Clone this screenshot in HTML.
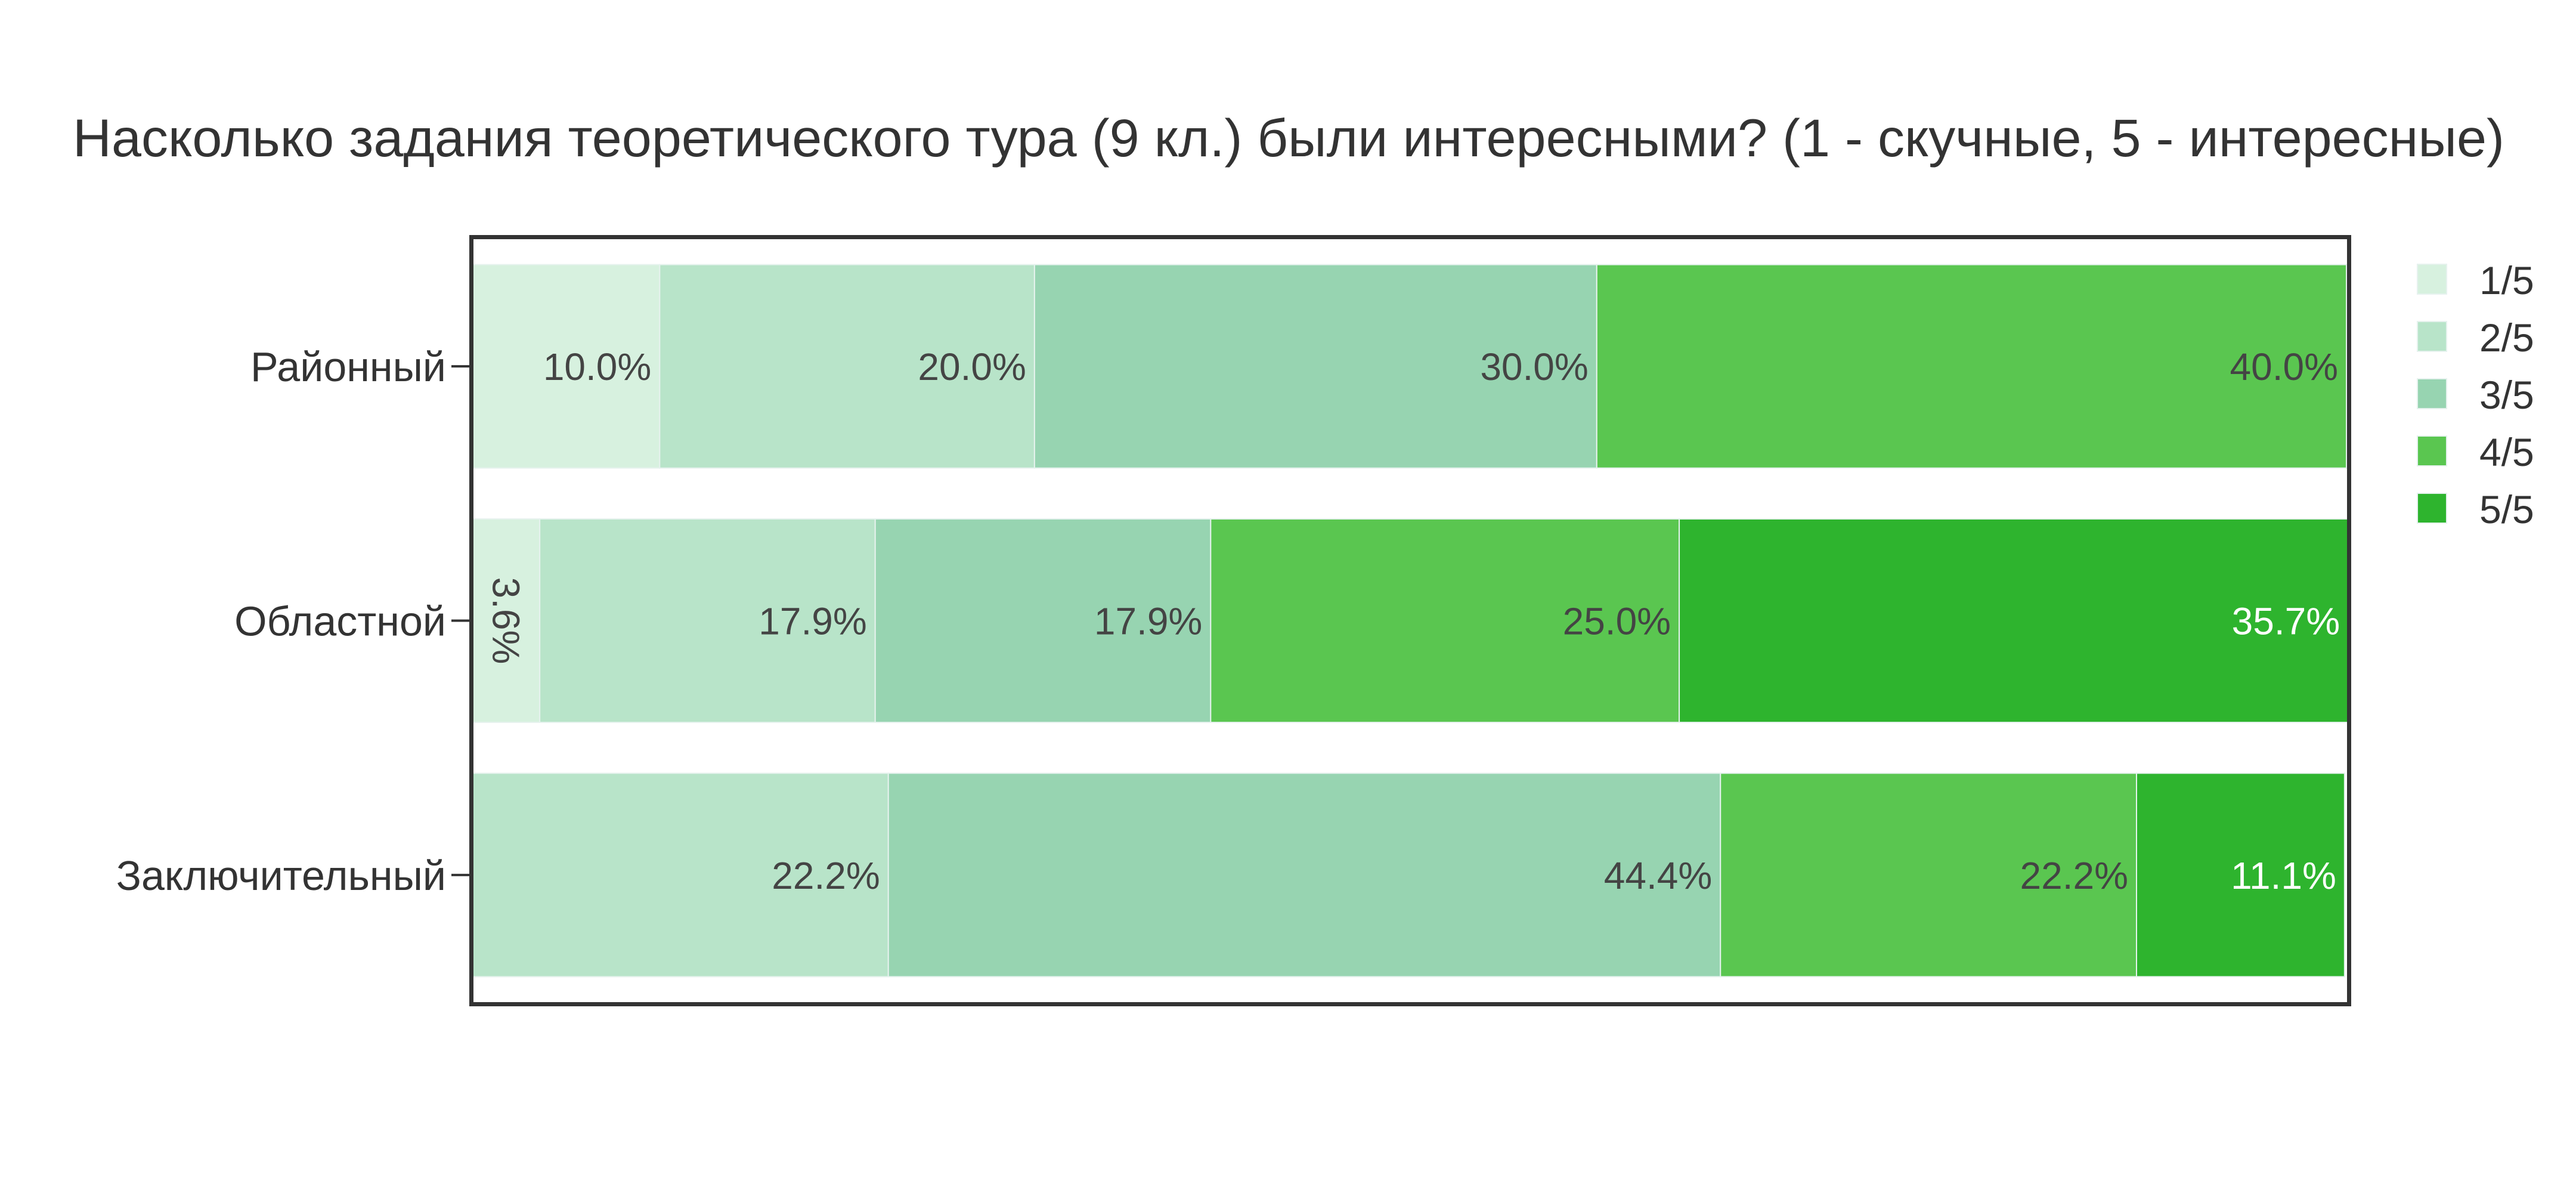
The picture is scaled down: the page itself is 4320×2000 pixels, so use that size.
<!DOCTYPE html>
<html><head><meta charset="utf-8">
<style>html,body{margin:0;padding:0;background:#fff}svg{display:block}text{font-family:"Liberation Sans",sans-serif}</style>
</head><body>
<svg id="chart" width="4320" height="2000" viewBox="0 0 4320 2000" xmlns="http://www.w3.org/2000/svg">
<rect x="0" y="0" width="4320" height="2000" fill="#fff"/>
<text x="122" y="262" font-size="89" fill="#333" textLength="4078" lengthAdjust="spacingAndGlyphs">Насколько задания теоретического тура (9 кл.) были интересными? (1 - скучные, 5 - интересные)</text>
<g id="bars"></g>
<g id="yaxis"></g>
<rect x="790.5" y="397.5" width="3149" height="1286" fill="none" stroke="#333" stroke-width="7"/>
<g id="legend"></g>
</svg>
<script>
const categories = ["Районный", "Областной", "Заключительный"];
const seriesNames = ["1/5", "2/5", "3/5", "4/5", "5/5"];
const s1 = [10.0, 3.6, 0];
const s2 = [20.0, 17.9, 22.2];
const s3 = [30.0, 17.9, 44.4];
const s4 = [40.0, 25.0, 22.2];
const s5 = [0, 35.7, 11.1];
const series = [s1, s2, s3, s4, s5];
const colors = ["#d7f1df", "#b8e4c9", "#97d4b1", "#5ac650", "#2eb42e"];
const labelColors = ["#444", "#444", "#444", "#444", "#fff"];

const NS = "http://www.w3.org/2000/svg";
const x0 = 792, x1 = 3935, yTop = 401, yBot = 1680;
const band = (yBot - yTop) / categories.length;
function xScale(v) { return x0 + (x1 - x0) * v / 100; }
function yCenter(i) { return yTop + band * (i + 0.5); }
const barH = band * 0.8;
function mk(tag, attrs) { const e = document.createElementNS(NS, tag); for (const k in attrs) e.setAttribute(k, attrs[k]); return e; }

const gb = document.getElementById('bars');
categories.forEach((cat, i) => {
  let acc = 0;
  series.forEach((ser, j) => {
    const v = ser[i];
    if (!v) return;
    const xa = xScale(acc), xb = xScale(acc + v);
    acc += v;
    const r = mk('rect', {x: xa, y: yCenter(i) - barH / 2, width: xb - xa, height: barH, fill: colors[j], stroke: '#e6f2ee', 'stroke-width': 2});
    
    
    gb.appendChild(r);
    const w = xb - xa;
    const txt = v.toFixed(1) + '%';
    const t = mk('text', {'font-size': 64, fill: labelColors[j]});
    t.textContent = txt;
    
    
    if (w < 160) {
      const cx = (xa + xb) / 2, cy = yCenter(i);
      t.setAttribute('x', cx); t.setAttribute('y', cy);
      t.setAttribute('text-anchor', 'middle');
      t.setAttribute('dominant-baseline', 'central');
      t.setAttribute('transform', 'rotate(90 ' + cx + ' ' + cy + ')');
    } else {
      t.setAttribute('x', xb - 14); t.setAttribute('y', yCenter(i) + 23);
      t.setAttribute('text-anchor', 'end');
    }
    gb.appendChild(t);
  });
});

const gy = document.getElementById('yaxis');
categories.forEach((cat, i) => {
  const tk = mk('line', {x1: 757, x2: 787, y1: yCenter(i), y2: yCenter(i), stroke: '#333', 'stroke-width': 4});
  
  
  gy.appendChild(tk);
  const t = mk('text', {x: 748, y: yCenter(i) + 25, 'text-anchor': 'end', 'font-size': 70, fill: '#333'});
  t.textContent = cat;
  
  
  gy.appendChild(t);
});

const gl = document.getElementById('legend');
seriesNames.forEach((n, j) => {
  const y = 443 + j * 96;
  const sw = mk('rect', {x: 4054, y: y, width: 49, height: 50, fill: colors[j], stroke: '#e6f2ee', 'stroke-width': 2});
  
  
  gl.appendChild(sw);
  const t = mk('text', {x: 4158, y: y + 50, 'font-size': 66, fill: '#333'});
  t.textContent = n;
  
  
  gl.appendChild(t);
});
</script>
</body></html>
